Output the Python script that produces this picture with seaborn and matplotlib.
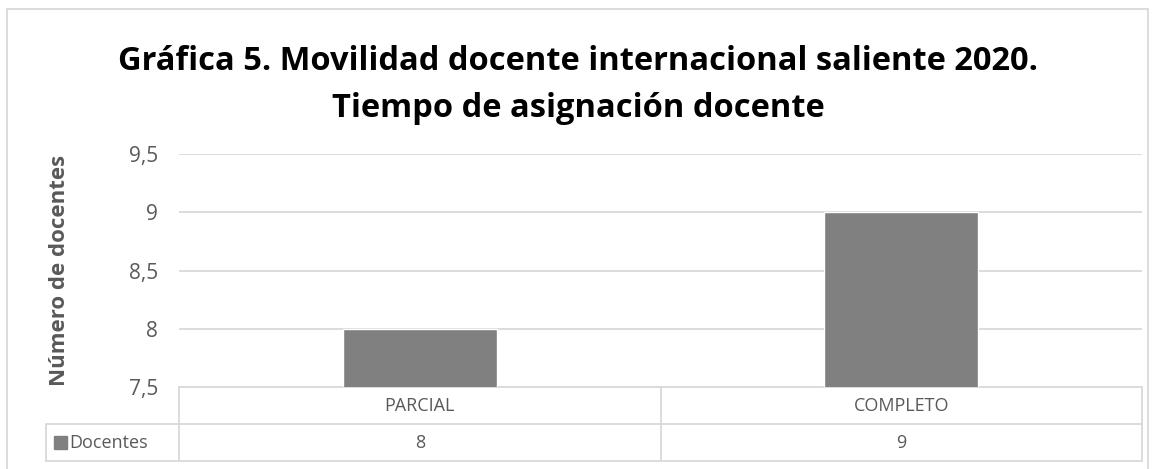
import matplotlib
matplotlib.use("Agg")
import matplotlib.pyplot as plt
import pandas as pd
import seaborn as sns
from matplotlib.patches import Rectangle
from matplotlib.ticker import FuncFormatter

# data
categorias = ["PARCIAL", "COMPLETO"]
docentes = [8, 9]
serie = "Docentes"
titulo = "Gráfica 5. Movilidad docente internacional saliente 2020.\nTiempo de asignación docente"
eje_y = "Número de docentes"

df = pd.DataFrame({"Tiempo": categorias, serie: docentes})

sns.set_theme(style="white")
plt.rcParams["font.family"] = ["Open Sans", "DejaVu Sans"]

gris_txt = "#595959"
gris_lin = "#d9d9d9"

fig = plt.figure(figsize=(11.56, 4.69), dpi=100)
ax = fig.add_axes([179/1156, 1-387/469, (1142-179)/1156, (387-154)/469])

sns.barplot(data=df, x="Tiempo", y=serie, color="#808080", width=0.32,
            saturation=1, ax=ax, zorder=3)

ax.set_xlim(-0.5, len(categorias) - 0.5)
ax.set_ylim(7.5, 9.5)
ax.set_yticks([7.5, 8, 8.5, 9, 9.5])
ax.yaxis.set_major_formatter(FuncFormatter(lambda v, p: f"{v:g}".replace(".", ",")))
ax.grid(axis="y", color=gris_lin, linewidth=1.3, zorder=0)
for s in ax.spines.values():
    s.set_visible(False)
ax.tick_params(axis="y", length=0, pad=15, labelsize=15, labelcolor=gris_txt)
ax.set_xticks([])
ax.set_xlabel("")
ax.set_ylabel(eje_y, fontsize=16, fontweight="bold", color=gris_txt, labelpad=42)

# data table under the plot (axes coords)
h = 37 / (387 - 154)
w_head = (179 - 46) / (1142 - 179)
kw = dict(transform=ax.transAxes, clip_on=False, color=gris_lin, linewidth=1.3)
ax.plot([0, 1], [0, 0], **kw)
ax.plot([-w_head, 1], [-h, -h], **kw)
ax.plot([-w_head, 1], [-2*h, -2*h], **kw)
ax.plot([0, 0], [0, -2*h], **kw)
ax.plot([0.5, 0.5], [0, -2*h], **kw)
ax.plot([1, 1], [0, -2*h], **kw)
ax.plot([-w_head, -w_head], [-h, -2*h], **kw)
n = len(categorias)
for i, (c, v) in enumerate(zip(categorias, docentes)):
    xc = (i + 0.5) / n
    ax.text(xc, -h/2, c, transform=ax.transAxes, ha="center", va="center",
            fontsize=13, color=gris_txt)
    ax.text(xc, -1.5*h, f"{v}", transform=ax.transAxes, ha="center", va="center",
            fontsize=13, color=gris_txt)
ax.add_patch(Rectangle((-w_head + 0.0085, -1.5*h - 0.028), 0.0135, 0.056,
                       transform=ax.transAxes, clip_on=False, color="#808080"))
ax.text(-w_head + 0.024, -1.5*h, serie, transform=ax.transAxes, ha="left",
        va="center", fontsize=13, color=gris_txt)

fig.text(0.5, 1 - 85/469, titulo, ha="center", va="center", fontsize=23.5,
         fontweight="bold", color="black", linespacing=1.55)

# chart border
fig.add_artist(Rectangle((7/1156, -0.05), (1148-7)/1156, 1.05 - 9/469,
                         transform=fig.transFigure, fill=False,
                         edgecolor=gris_lin, linewidth=1.3))

fig.savefig("out.png", dpi=100)
